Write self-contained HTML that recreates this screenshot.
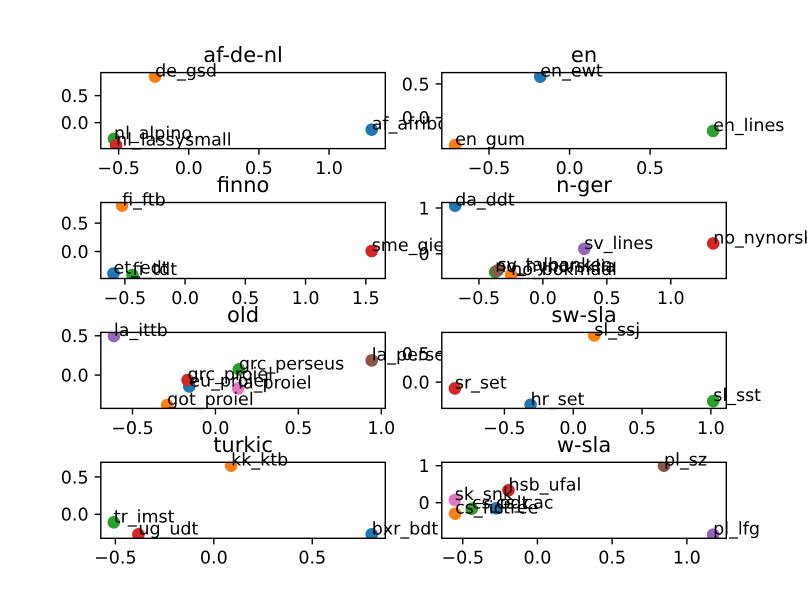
<!DOCTYPE html>
<html>
<head>
<meta charset="utf-8">
<title>Scatter subplots by language family</title>
<style>
html,body{margin:0;padding:0;background:#fff;width:807px;height:605px;overflow:hidden}
svg{display:block}
text{font-family:"DejaVu Sans","Liberation Sans",sans-serif;fill:#000;text-rendering:geometricPrecision}
</style>
</head>
<body>
<svg id="figure" xmlns="http://www.w3.org/2000/svg" width="807" height="605" viewBox="0 0 807 605"></svg>
<script>
const afLabels = ["af_afribooms","de_gsd","nl_alpino","nl_lassysmall"];
const afX = [1.304,-0.24,-0.533,-0.518];
const afY = [-0.13,0.852,-0.30,-0.42];
const afXLim = [-0.627,1.401];
const afYLim = [-0.48,0.926];
const afXTicks = [-0.5,0,0.5,1];
const afXTickLabels = ["−0.5","0.0","0.5","1.0"];
const afYTicks = [0,0.5];
const afYTickLabels = ["0.0","0.5"];

const enLabels = ["en_ewt","en_gum","en_lines"];
const enX = [-0.182,-0.71,0.891];
const enY = [0.608,-0.41,-0.197];
const enXLim = [-0.793,0.973];
const enYLim = [-0.46,0.668];
const enXTicks = [-0.5,0,0.5];
const enXTickLabels = ["−0.5","0.0","0.5"];
const enYTicks = [0,0.5];
const enYTickLabels = ["0.0","0.5"];

const finnoLabels = ["et_edt","fi_ftb","fi_tdt","sme_giella"];
const finnoX = [-0.595,-0.523,-0.437,1.549];
const finnoY = [-0.388,0.811,-0.416,0.007];
const finnoXLim = [-0.70,1.662];
const finnoYLim = [-0.476,0.864];
const finnoXTicks = [-0.5,0,0.5,1,1.5];
const finnoXTickLabels = ["−0.5","0.0","0.5","1.0","1.5"];
const finnoYTicks = [0,0.5];
const finnoYTickLabels = ["0.0","0.5"];

const ngerLabels = ["da_ddt","no_bokmaal","no_nynorsklia","no_nynorsk","sv_lines","sv_talbanken"];
const ngerX = [-0.686,-0.248,-0.373,1.332,0.324,-0.355];
const ngerY = [1.05,-0.46,-0.40,0.225,0.109,-0.365];
const ngerXLim = [-0.79,1.434];
const ngerYLim = [-0.54,1.12];
const ngerXTicks = [-0.5,0,0.5,1];
const ngerXTickLabels = ["−0.5","0.0","0.5","1.0"];
const ngerYTicks = [0,1];
const ngerYTickLabels = ["0","1"];

const oldLabels = ["eu_proiel","got_proiel","grc_perseus","grc_proiel","la_ittb","la_perseus","la_proiel"];
const oldX = [-0.158,-0.291,0.141,-0.168,-0.612,0.942,0.137];
const oldY = [-0.144,-0.382,0.073,-0.064,0.496,0.187,-0.17];
const oldXLim = [-0.691,1.024];
const oldYLim = [-0.424,0.543];
const oldXTicks = [-0.5,0,0.5,1];
const oldXTickLabels = ["−0.5","0.0","0.5","1.0"];
const oldYTicks = [0,0.5];
const oldYTickLabels = ["0.0","0.5"];

const swslaLabels = ["hr_set","sl_ssj","sl_sst","sr_set"];
const swslaX = [-0.31,0.153,1.017,-0.86];
const swslaY = [-0.395,0.814,-0.331,-0.11];
const swslaXLim = [-0.955,1.112];
const swslaYLim = [-0.458,0.866];
const swslaXTicks = [-0.5,0,0.5,1];
const swslaXTickLabels = ["−0.5","0.0","0.5","1.0"];
const swslaYTicks = [0,0.5];
const swslaYTickLabels = ["0.0","0.5"];

const turkicLabels = ["bxr_bdt","kk_ktb","tr_imst","ug_udt"];
const turkicX = [0.802,0.088,-0.508,-0.383];
const turkicY = [-0.268,0.651,-0.107,-0.268];
const turkicXLim = [-0.574,0.871];
const turkicYLim = [-0.321,0.696];
const turkicXTicks = [-0.5,0,0.5];
const turkicXTickLabels = ["−0.5","0.0","0.5"];
const turkicYTicks = [0,0.5];
const turkicYTickLabels = ["0.0","0.5"];

const wslaLabels = ["cs_cac","cs_fictree","cs_pdt","hsb_ufal","pl_lfg","pl_sz","sk_snk"];
const wslaX = [-0.277,-0.551,-0.439,-0.194,1.176,0.847,-0.553];
const wslaY = [-0.151,-0.297,-0.162,0.335,-0.865,1.0,0.073];
const wslaXLim = [-0.64,1.264];
const wslaYLim = [-0.962,1.092];
const wslaXTicks = [-0.5,0,0.5,1];
const wslaXTickLabels = ["−0.5","0.0","0.5","1.0"];
const wslaYTicks = [0,1];
const wslaYTickLabels = ["0","1"];

const panelTitles = ["af-de-nl","en","finno","n-ger","old","sw-sla","turkic","w-sla"];
const panelLabels = [afLabels,enLabels,finnoLabels,ngerLabels,oldLabels,swslaLabels,turkicLabels,wslaLabels];
const panelX = [afX,enX,finnoX,ngerX,oldX,swslaX,turkicX,wslaX];
const panelY = [afY,enY,finnoY,ngerY,oldY,swslaY,turkicY,wslaY];
const panelXLim = [afXLim,enXLim,finnoXLim,ngerXLim,oldXLim,swslaXLim,turkicXLim,wslaXLim];
const panelYLim = [afYLim,enYLim,finnoYLim,ngerYLim,oldYLim,swslaYLim,turkicYLim,wslaYLim];
const panelXTicks = [afXTicks,enXTicks,finnoXTicks,ngerXTicks,oldXTicks,swslaXTicks,turkicXTicks,wslaXTicks];
const panelXTickLabels = [afXTickLabels,enXTickLabels,finnoXTickLabels,ngerXTickLabels,oldXTickLabels,swslaXTickLabels,turkicXTickLabels,wslaXTickLabels];
const panelYTicks = [afYTicks,enYTicks,finnoYTicks,ngerYTicks,oldYTicks,swslaYTicks,turkicYTicks,wslaYTicks];
const panelYTickLabels = [afYTickLabels,enYTickLabels,finnoYTickLabels,ngerYTickLabels,oldYTickLabels,swslaYTickLabels,turkicYTickLabels,wslaYTickLabels];

const seriesColors = ["#1f77b4","#ff7f0e","#2ca02c","#d62728","#9467bd","#8c564b","#e377c2"];

const NS = "http://www.w3.org/2000/svg";
const fig = document.getElementById("figure");
const AXW = 284.5, AXH = 76;
function axLeft(col){ return 100.8 + col * 341; }
function axTop(row){ return 72.6 + row * 129.9; }
function scale(lim, a, b){ return function(v){ return a + (v - lim[0]) / (lim[1] - lim[0]) * (b - a); }; }
function mk(tag, attrs, parent){
  const el = document.createElementNS(NS, tag);
  for (const k in attrs) el.setAttribute(k, attrs[k]);
  parent.appendChild(el);
  return el;
}

panelTitles.forEach(function(title, p){
  const col = p % 2, row = Math.floor(p / 2);
  const L = axLeft(col), T = axTop(row), R = L + AXW, B = T + AXH;
  const sx = scale(panelXLim[p], L, R);
  const sy = scale(panelYLim[p], B, T);

  const g = mk("g", {}, fig);
  
  

  const bg = mk("rect", {x:L, y:T, width:AXW, height:AXH, fill:"#fff"}, g);
  
  

  const clip = mk("clipPath", {id:"clip" + p}, g);
  mk("rect", {x:L, y:T, width:AXW, height:AXH}, clip);

  panelX[p].forEach(function(xv, i){
    const dot = mk("circle", {cx:sx(xv), cy:sy(panelY[p][i]), r:6.3, fill:seriesColors[i], "clip-path":"url(#clip" + p + ")"}, g);
    
    
  });

  panelXTicks[p].forEach(function(v, i){
    const x = sx(v);
    const tick = mk("line", {x1:x, x2:x, y1:B, y2:B + 6.1, stroke:"#000", "stroke-width":1.4}, g);
    
    
    const lab = mk("text", {x:x, y:B + 25.4, "text-anchor":"middle", "font-size":17.5}, g);
    lab.textContent = panelXTickLabels[p][i];
    
    
  });

  panelYTicks[p].forEach(function(v, i){
    const y = sy(v);
    const tick = mk("line", {x1:L - 6.1, x2:L, y1:y, y2:y, stroke:"#000", "stroke-width":1.4}, g);
    
    
    const lab = mk("text", {x:L - 12.2, y:y + 6.4, "text-anchor":"end", "font-size":17.5}, g);
    lab.textContent = panelYTickLabels[p][i];
    
    
  });

  const frame = mk("rect", {x:L, y:T, width:AXW, height:AXH, fill:"none", stroke:"#000", "stroke-width":1.4}, g);
  
  

  panelLabels[p].forEach(function(name, i){
    const t = mk("text", {x:sx(panelX[p][i]), y:sy(panelY[p][i]), "font-size":17.5}, g);
    t.textContent = name;
    
    
  });

  const ttl = mk("text", {x:L + AXW / 2, y:T - 10.5, "text-anchor":"middle", "font-size":21}, g);
  ttl.textContent = title;
  
  
});
</script>
</body>
</html>
